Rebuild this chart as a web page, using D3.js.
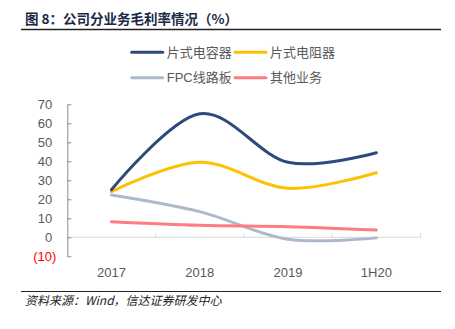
<!DOCTYPE html>
<html>
<head>
<meta charset="utf-8">
<script src="https://cdn.jsdelivr.net/npm/d3@7"></script>
<style>
  body { margin: 0; background: #fff; }
  svg text { font-family: "Liberation Sans", Arial, "Noto Sans CJK SC", sans-serif; }
</style>
</head>
<body>
<div id="container"></div>
<script>
// Categories and series (gross margin, %)
let categories = ["2017", "2018", "2019", "1H20"];
let capacitor = [25, 65, 39.5, 44.5];
let resistor = [24, 39.5, 25.8, 34];
let fpc = [22.3, 13.5, -1, -0.3];
let other = [8.2, 6.3, 5.6, 3.8];
let yTicks = [-10, 0, 10, 20, 30, 40, 50, 60, 70];

let seriesNames = ["片式电容器", "片式电阻器", "FPC线路板", "其他业务"];
let seriesColors = ["#2E4A7D", "#FFC000", "#ADB9CA", "#FF7C80"];

let chart_width = 455;
let chart_height = 329;

let svg = d3.select("#container")
  .append("svg")
  .attr("width", chart_width)
  .attr("height", chart_height);

// Title and rule underneath
svg.append("text")
  .attr("x", 25)
  .attr("y", 24)
  .style("font-size", "13.5px")
  .style("font-weight", "bold")
  .attr("fill", "#1B2A47")
  .style("font-family", "'Noto Sans CJK SC', sans-serif")
  .text("图 8：公司分业务毛利率情况（%）");

svg.append("line")
  .attr("x1", 21).attr("x2", 441)
  .attr("y1", 29.5).attr("y2", 29.5)
  .attr("stroke", "#222").attr("stroke-width", 1.6);

// Scales
let x = d3.scaleBand()
  .domain(categories)
  .range([67.3, 420.5])
  .paddingInner(0);
let y = d3.scaleLinear()
  .domain([-10, 70])
  .range([256.3, 104.3]);
let cx = (d) => x(d) + x.bandwidth() / 2;

// Zero line with category tick marks
svg.append("line")
  .attr("x1", 67.3).attr("x2", x.range()[1])
  .attr("y1", y(0)).attr("y2", y(0))
  .attr("stroke", "#D9D9D9").attr("stroke-width", 1);
svg.append("g")
  .selectAll("line")
  .data(categories)
  .enter()
  .append("line")
  .attr("x1", (d) => x(d) + x.bandwidth())
  .attr("x2", (d) => x(d) + x.bandwidth())
  .attr("y1", y(0))
  .attr("y2", y(0) - 4)
  .attr("stroke", "#D9D9D9");

// Y axis, ticks pointing inward
let yAxis = d3.axisLeft(y)
  .tickValues(yTicks)
  .tickSizeInner(-4)
  .tickSizeOuter(0)
  .tickPadding(15)
  .tickFormat((d) => d < 0 ? "(" + Math.abs(d) + ")" : d);
let yg = svg.append("g")
  .attr("transform", "translate(67.3,0)")
  .call(yAxis);
yg.select(".domain").attr("stroke", "#8C8C8C");
yg.selectAll(".tick line").attr("stroke", "#8C8C8C");
yg.selectAll(".tick text")
  .style("font-size", "13px")
  .style("font-family", "'Liberation Sans', Arial, sans-serif")
  .attr("fill", (d) => d < 0 ? "#FF0000" : "#595959")
  .attr("x", (d) => d < 0 ? -11 : -15);

// X labels
svg.append("g")
  .selectAll("text")
  .data(categories)
  .enter()
  .append("text")
  .attr("x", (d) => cx(d))
  .attr("y", 277)
  .attr("text-anchor", "middle")
  .style("font-size", "13px")
  .attr("fill", "#595959")
  .text((d) => d);

// Lines
let allSeries = [capacitor, resistor, fpc, other];
let line = d3.line()
  .x((d, i) => cx(categories[i]))
  .y((d) => y(d))
  .curve(d3.curveCardinal.tension(0));

// draw back to front so the margin lines sit on top
[2, 3, 1, 0].forEach(function(k) {
  svg.append("path")
    .datum(allSeries[k])
    .attr("d", line)
    .attr("fill", "none")
    .attr("stroke", seriesColors[k])
    .attr("stroke-width", 3)
    .attr("stroke-linecap", "round");
});

// Legend
let legendPos = [[131.7, 52.3], [235, 52.3], [131.7, 77.7], [235, 77.7]];
let legend = svg.append("g")
  .selectAll("g")
  .data(seriesNames)
  .enter()
  .append("g")
  .attr("transform", (d, i) => "translate(" + legendPos[i][0] + "," + legendPos[i][1] + ")");
legend.append("line")
  .attr("x1", 0).attr("x2", 31)
  .attr("y1", 0).attr("y2", 0)
  .attr("stroke", (d, i) => seriesColors[i])
  .attr("stroke-width", 3)
  .attr("stroke-linecap", "round");
legend.append("text")
  .attr("x", 35)
  .attr("y", 4.5)
  .style("font-size", "13px")
  .attr("fill", "#595959")
  .text((d) => d);

// Source note
svg.append("line")
  .attr("x1", 21).attr("x2", 441)
  .attr("y1", 291.5).attr("y2", 291.5)
  .attr("stroke", "#222").attr("stroke-width", 1.2);
svg.append("text")
  .attr("x", 25)
  .attr("y", 304.5)
  .style("font-size", "12px")
  .style("font-style", "italic")
  .attr("fill", "#222")
  .style("font-family", "'Noto Sans CJK SC', sans-serif")
  .text("资料来源：Wind，信达证券研发中心");
</script>
</body>
</html>
